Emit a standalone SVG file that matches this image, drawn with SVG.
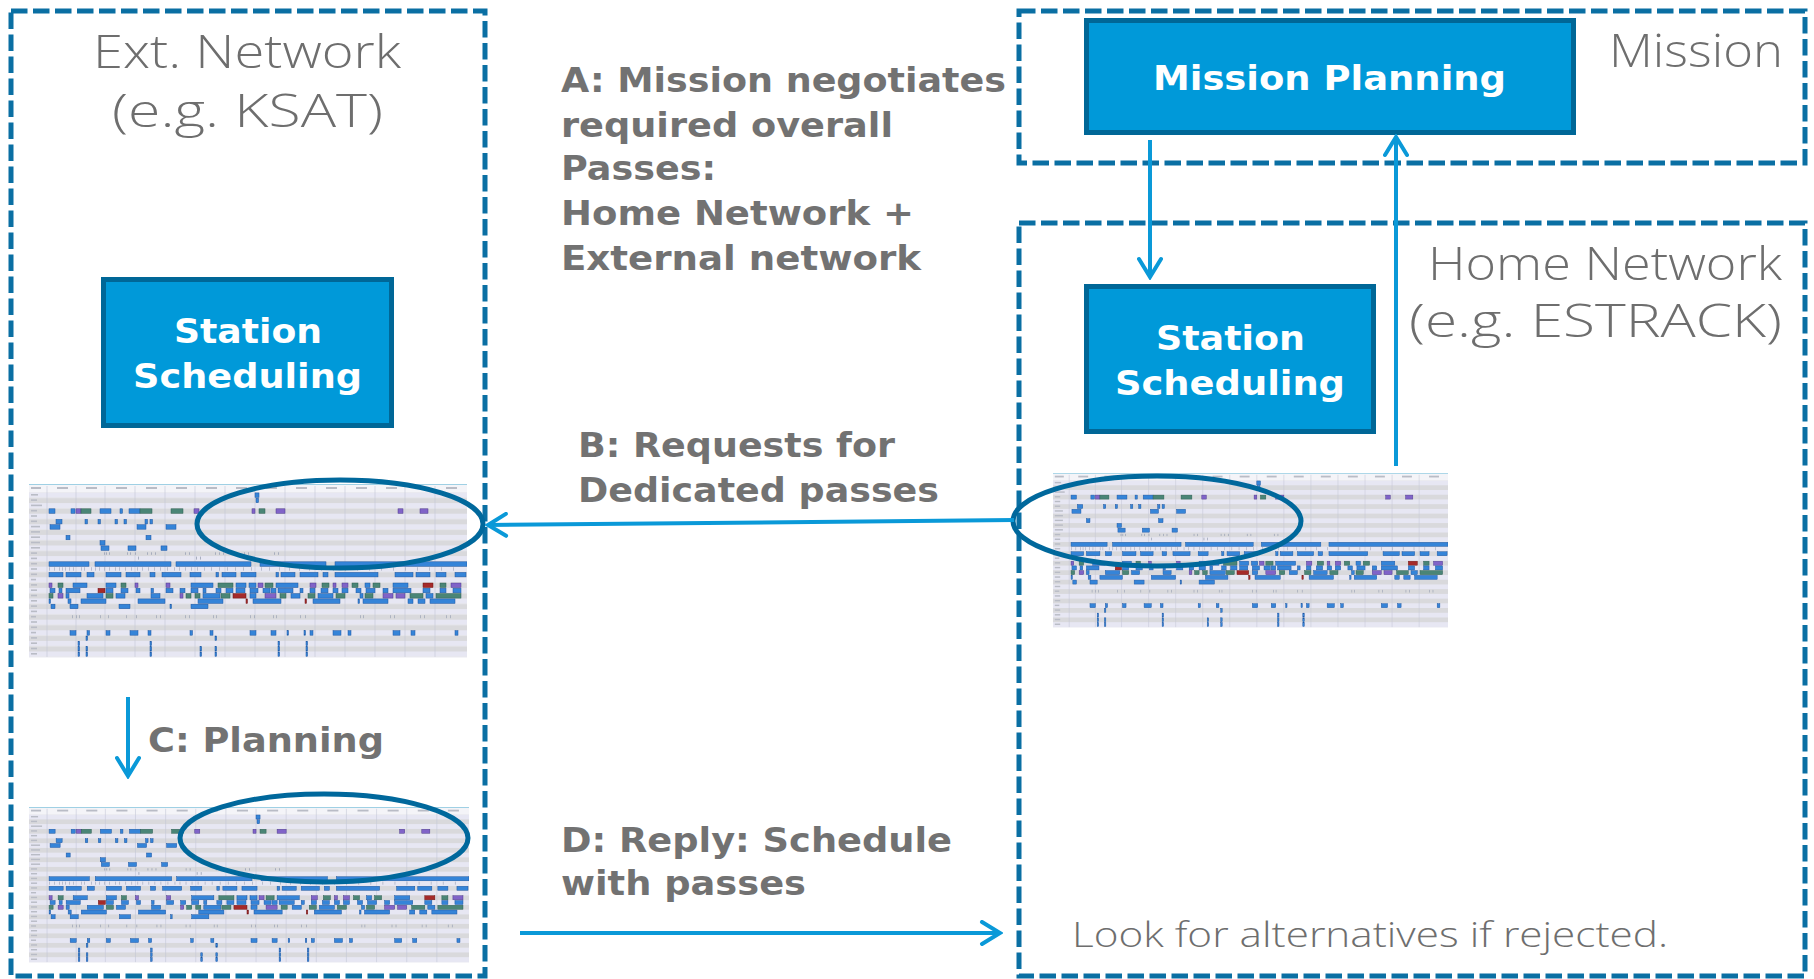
<svg xmlns="http://www.w3.org/2000/svg" xmlns:xlink="http://www.w3.org/1999/xlink" width="1814" height="979" viewBox="0 0 1814 979">
<style>
  .zone { fill: none; stroke: #0a6fa3; stroke-width: 5; stroke-dasharray: 16.5 5.5; }
  .box { fill: #0099d9; stroke: #006797; stroke-width: 5; }
  .boxt { font-family: "DejaVu Sans", "Liberation Sans", sans-serif; font-weight: bold; font-size: 34px; fill: #ffffff; }
  .lbl { font-family: "DejaVu Sans", "Liberation Sans", sans-serif; font-weight: bold; font-size: 34px; fill: #727272; }
  .title { font-family: "Open Sans", "Liberation Sans", sans-serif; font-weight: 300; font-size: 46px; fill: #6e6e6e; }
  .note { font-family: "Open Sans", "Liberation Sans", sans-serif; font-weight: 300; font-size: 35px; fill: #6e6e6e; }
  .conn { fill: none; stroke: #0a99d8; stroke-width: 4; marker-end: url(#arr); }
  .oval { fill: none; stroke: #00689c; stroke-width: 5; }
  .b { fill: #3584d8; stroke: #1d55a0; stroke-width: 0.5; }
  .g { fill: #4a8576; stroke: #2d5e52; stroke-width: 0.5; }
  .p { fill: #8063c8; stroke: #4d3a8c; stroke-width: 0.5; }
  .r { fill: #a52a2a; stroke: #6e1616; stroke-width: 0.5; }
  .t { fill: #9aa2b4; }
  .lab { fill: #b9bcc6; }
  .grid { stroke: #c4c6d6; stroke-width: 0.6; }
</style>
<defs>
  <marker id="arr" markerUnits="userSpaceOnUse" viewBox="0 0 24 26" markerWidth="24" markerHeight="26" refX="21" refY="13" orient="auto">
    <path d="M3,2 L21,13 L3,24" fill="none" stroke="#0a99d8" stroke-width="4" stroke-linecap="round" stroke-linejoin="miter"/>
  </marker>
  <pattern id="stripes" patternUnits="userSpaceOnUse" x="0" y="8.5" width="438" height="10.6">
    <rect x="0" y="0" width="438" height="5.3" fill="#e7e7f3"/>
    <rect x="0" y="5.3" width="438" height="5.3" fill="#d9d9dc"/>
  </pattern>
  <symbol id="gantt" viewBox="0 0 438 174" preserveAspectRatio="none">
    <rect x="0" y="0" width="438" height="174" fill="#f4f4f8"/>
    <rect x="0" y="8.5" width="438" height="164.3" fill="url(#stripes)"/>
    <line x1="0" y1="0.5" x2="438" y2="0.5" stroke="#9fd0e4" stroke-width="1"/>
    <g class="grid">
      <line x1="18" y1="2" x2="18" y2="173"/><line x1="47" y1="2" x2="47" y2="173"/><line x1="76" y1="2" x2="76" y2="173"/>
      <line x1="106" y1="2" x2="106" y2="173"/><line x1="136" y1="2" x2="136" y2="173"/><line x1="166" y1="2" x2="166" y2="173"/>
      <line x1="196" y1="2" x2="196" y2="173"/><line x1="226" y1="2" x2="226" y2="173"/><line x1="256" y1="2" x2="256" y2="173"/>
      <line x1="286" y1="2" x2="286" y2="173"/><line x1="316" y1="2" x2="316" y2="173"/><line x1="346" y1="2" x2="346" y2="173"/>
      <line x1="376" y1="2" x2="376" y2="173"/><line x1="406" y1="2" x2="406" y2="173"/>
    </g>
    <g class="lab">
      <rect x="2" y="3" width="10" height="2"/><rect x="28" y="3" width="11" height="2"/><rect x="57" y="3" width="11" height="2"/>
      <rect x="87" y="3" width="11" height="2"/><rect x="117" y="3" width="11" height="2"/><rect x="147" y="3" width="11" height="2"/>
      <rect x="177" y="3" width="11" height="2"/><rect x="207" y="3" width="11" height="2"/><rect x="237" y="3" width="11" height="2"/>
      <rect x="267" y="3" width="11" height="2"/><rect x="297" y="3" width="11" height="2"/><rect x="327" y="3" width="11" height="2"/>
      <rect x="357" y="3" width="11" height="2"/><rect x="387" y="3" width="11" height="2"/><rect x="417" y="3" width="11" height="2"/>
      <rect x="2" y="10" width="7" height="1.6"/><rect x="2" y="15.3" width="6" height="1.6"/><rect x="2" y="20.6" width="11" height="1.6"/>
      <rect x="2" y="25.9" width="6" height="1.6"/><rect x="2" y="31.2" width="6" height="1.6"/><rect x="2" y="36.5" width="6" height="1.6"/>
      <rect x="2" y="41.8" width="9" height="1.6"/><rect x="2" y="47.1" width="9" height="1.6"/><rect x="2" y="52.4" width="9" height="1.6"/>
      <rect x="2" y="57.7" width="9" height="1.6"/><rect x="2" y="63" width="9" height="1.6"/><rect x="2" y="68.3" width="6" height="1.6"/>
      <rect x="2" y="73.6" width="6" height="1.6"/><rect x="2" y="78.9" width="6" height="1.6"/><rect x="2" y="84.2" width="6" height="1.6"/>
      <rect x="2" y="89.5" width="6" height="1.6"/><rect x="2" y="94.8" width="5" height="1.6"/><rect x="2" y="100.1" width="6" height="1.6"/>
      <rect x="2" y="105.4" width="6" height="1.6"/><rect x="2" y="110.7" width="6" height="1.6"/><rect x="2" y="116" width="6" height="1.6"/>
      <rect x="2" y="121.3" width="6" height="1.6"/><rect x="2" y="126.6" width="6" height="1.6"/><rect x="2" y="131.9" width="5" height="1.6"/>
      <rect x="2" y="137.2" width="6" height="1.6"/><rect x="2" y="142.5" width="6" height="1.6"/><rect x="2" y="147.8" width="5" height="1.6"/>
      <rect x="2" y="153.1" width="6" height="1.6"/><rect x="2" y="158.4" width="6" height="1.6"/><rect x="2" y="163.7" width="6" height="1.6"/>
      <rect x="2" y="169" width="6" height="1.6"/>
    </g>
    <g transform="translate(0,8.5)"><rect class="b" x="226" y="0.4" width="4" height="4.5"/></g>
    <g transform="translate(0,13.8)"><rect class="b" x="227" y="0.4" width="2.5" height="4.5"/></g>
    <g transform="translate(0,24.4)">
      <rect class="b" x="20" y="0.4" width="6" height="4.5"/><rect class="b" x="42" y="0.4" width="4" height="4.5"/>
      <rect class="p" x="47" y="0.4" width="5" height="4.5"/><rect class="g" x="52" y="0.4" width="10" height="4.5"/>
      <rect class="b" x="71" y="0.4" width="11" height="4.5"/><rect class="b" x="91" y="0.4" width="2.5" height="4.5"/>
      <rect class="b" x="100" y="0.4" width="11" height="4.5"/><rect class="g" x="111" y="0.4" width="12" height="4.5"/>
      <rect class="g" x="142" y="0.4" width="12" height="4.5"/><rect class="p" x="165" y="0.4" width="5" height="4.5"/>
      <rect class="p" x="223" y="0.4" width="3" height="4.5"/><rect class="g" x="230" y="0.4" width="6" height="4.5"/>
      <rect class="p" x="247" y="0.4" width="9" height="4.5"/><rect class="p" x="369" y="0.4" width="5" height="4.5"/>
      <rect class="p" x="391" y="0.4" width="8" height="4.5"/>
    </g>
    <g transform="translate(0,35)">
      <rect class="b" x="27" y="0.4" width="6" height="4.5"/><rect class="b" x="56" y="0.4" width="2.5" height="4.5"/>
      <rect class="b" x="69" y="0.4" width="2.5" height="4.5"/><rect class="b" x="86" y="0.4" width="2.5" height="4.5"/>
      <rect class="b" x="95" y="0.4" width="2.5" height="4.5"/><rect class="b" x="116" y="0.4" width="2.5" height="4.5"/>
      <rect class="b" x="121" y="0.4" width="2.5" height="4.5"/>
    </g>
    <g transform="translate(0,40.3)">
      <rect class="b" x="21" y="0.4" width="10" height="4.5"/><rect class="b" x="108" y="0.4" width="9" height="4.5"/>
      <rect class="b" x="137" y="0.4" width="10" height="4.5"/>
    </g>
    <g transform="translate(0,50.9)">
      <rect class="b" x="37" y="0.4" width="4" height="4.5"/><rect class="b" x="117" y="0.4" width="5" height="4.5"/>
    </g>
    <g transform="translate(0,56.2)"><rect class="b" x="71" y="0.4" width="5" height="4.5"/></g>
    <g transform="translate(0,61.5)">
      <rect class="b" x="72" y="0.4" width="8" height="4.5"/><rect class="b" x="99" y="0.4" width="8" height="4.5"/>
      <rect class="b" x="132" y="0.4" width="6" height="4.5"/>
    </g>
    <g transform="translate(0,66.8)" class="t">
      <rect x="75" y="1.5" width="0.8" height="2.5"/><rect x="77" y="1.5" width="0.8" height="2.5"/><rect x="80" y="1.5" width="0.8" height="2.5"/>
      <rect x="98" y="1.5" width="0.8" height="2.5"/><rect x="101" y="1.5" width="0.8" height="2.5"/><rect x="106" y="1.5" width="0.8" height="2.5"/>
      <rect x="118" y="1.5" width="0.8" height="2.5"/><rect x="122" y="1.5" width="0.8" height="2.5"/><rect x="126" y="1.5" width="0.8" height="2.5"/>
      <rect x="156" y="1.5" width="0.8" height="2.5"/><rect x="160" y="1.5" width="0.8" height="2.5"/><rect x="186" y="1.5" width="0.8" height="2.5"/>
      <rect x="190" y="1.5" width="0.8" height="2.5"/><rect x="194" y="1.5" width="0.8" height="2.5"/><rect x="215" y="1.5" width="0.8" height="2.5"/>
      <rect x="219" y="1.5" width="0.8" height="2.5"/><rect x="245" y="1.5" width="0.8" height="2.5"/><rect x="249" y="1.5" width="0.8" height="2.5"/>
    </g>
    <g transform="translate(0,72.1)" class="t">
      <rect x="109" y="0.5" width="0.8" height="3"/><rect x="167" y="0.5" width="0.8" height="3"/><rect x="171" y="0.5" width="0.8" height="3"/>
    </g>
    <g transform="translate(0,77.4)">
      <rect class="b" x="20" y="0.4" width="40" height="4.5"/><rect class="b" x="66" y="0.4" width="76" height="4.5"/>
      <rect class="b" x="147" y="0.4" width="75" height="4.5"/><rect class="b" x="231" y="0.4" width="66" height="4.5"/>
      <rect class="b" x="306" y="0.4" width="132" height="4.5"/>
    </g>
    <g transform="translate(0,82.7)" class="t">
      <rect x="20" y="0.5" width="0.6" height="3.5"/><rect x="25" y="0.5" width="0.6" height="3.5"/><rect x="30" y="0.5" width="0.6" height="3.5"/>
      <rect x="33" y="0.5" width="0.6" height="3.5"/><rect x="36" y="0.5" width="0.6" height="3.5"/><rect x="40" y="0.5" width="0.6" height="3.5"/>
      <rect x="44" y="0.5" width="0.6" height="3.5"/><rect x="52" y="0.5" width="0.6" height="3.5"/><rect x="55" y="0.5" width="0.6" height="3.5"/>
      <rect x="62" y="0.5" width="0.6" height="3.5"/><rect x="66" y="0.5" width="0.6" height="3.5"/><rect x="70" y="0.5" width="0.6" height="3.5"/>
      <rect x="75" y="0.5" width="0.6" height="3.5"/><rect x="80" y="0.5" width="0.6" height="3.5"/><rect x="86" y="0.5" width="0.6" height="3.5"/>
      <rect x="90" y="0.5" width="0.6" height="3.5"/><rect x="96" y="0.5" width="0.6" height="3.5"/><rect x="102" y="0.5" width="0.6" height="3.5"/>
      <rect x="108" y="0.5" width="0.6" height="3.5"/><rect x="113" y="0.5" width="0.6" height="3.5"/><rect x="119" y="0.5" width="0.6" height="3.5"/>
      <rect x="125" y="0.5" width="0.6" height="3.5"/><rect x="131" y="0.5" width="0.6" height="3.5"/><rect x="138" y="0.5" width="0.6" height="3.5"/>
      <rect x="145" y="0.5" width="0.6" height="3.5"/><rect x="150" y="0.5" width="0.6" height="3.5"/><rect x="156" y="0.5" width="0.6" height="3.5"/>
      <rect x="162" y="0.5" width="0.6" height="3.5"/><rect x="168" y="0.5" width="0.6" height="3.5"/><rect x="175" y="0.5" width="0.6" height="3.5"/>
      <rect x="182" y="0.5" width="0.6" height="3.5"/><rect x="190" y="0.5" width="0.6" height="3.5"/><rect x="198" y="0.5" width="0.6" height="3.5"/>
      <rect x="206" y="0.5" width="0.6" height="3.5"/><rect x="214" y="0.5" width="0.6" height="3.5"/><rect x="222" y="0.5" width="0.6" height="3.5"/>
      <rect x="232" y="0.5" width="0.6" height="3.5"/><rect x="240" y="0.5" width="0.6" height="3.5"/><rect x="250" y="0.5" width="0.6" height="3.5"/>
      <rect x="260" y="0.5" width="0.6" height="3.5"/><rect x="270" y="0.5" width="0.6" height="3.5"/><rect x="280" y="0.5" width="0.6" height="3.5"/>
      <rect x="292" y="0.5" width="0.6" height="3.5"/><rect x="304" y="0.5" width="0.6" height="3.5"/><rect x="316" y="0.5" width="0.6" height="3.5"/>
      <rect x="328" y="0.5" width="0.6" height="3.5"/><rect x="340" y="0.5" width="0.6" height="3.5"/><rect x="352" y="0.5" width="0.6" height="3.5"/>
      <rect x="364" y="0.5" width="0.6" height="3.5"/><rect x="376" y="0.5" width="0.6" height="3.5"/><rect x="388" y="0.5" width="0.6" height="3.5"/>
      <rect x="400" y="0.5" width="0.6" height="3.5"/><rect x="412" y="0.5" width="0.6" height="3.5"/><rect x="424" y="0.5" width="0.6" height="3.5"/>
    </g>
    <g transform="translate(0,88)">
      <rect class="b" x="20" y="0.4" width="14" height="4.5"/><rect class="b" x="37" y="0.4" width="15" height="4.5"/>
      <rect class="b" x="58" y="0.4" width="7" height="4.5"/><rect class="b" x="77" y="0.4" width="15" height="4.5"/>
      <rect class="b" x="97" y="0.4" width="14" height="4.5"/><rect class="b" x="121" y="0.4" width="5" height="4.5"/>
      <rect class="b" x="133" y="0.4" width="19" height="4.5"/><rect class="b" x="161" y="0.4" width="11" height="4.5"/>
      <rect class="b" x="187" y="0.4" width="2.5" height="4.5"/><rect class="b" x="193" y="0.4" width="14" height="4.5"/>
      <rect class="b" x="212" y="0.4" width="15" height="4.5"/><rect class="b" x="247" y="0.4" width="2.5" height="4.5"/>
      <rect class="b" x="252" y="0.4" width="14" height="4.5"/><rect class="b" x="271" y="0.4" width="18" height="4.5"/>
      <rect class="b" x="294" y="0.4" width="5" height="4.5"/><rect class="b" x="306" y="0.4" width="43" height="4.5"/>
      <rect class="b" x="366" y="0.4" width="18" height="4.5"/><rect class="b" x="387" y="0.4" width="14" height="4.5"/>
      <rect class="b" x="407" y="0.4" width="10" height="4.5"/><rect class="b" x="426" y="0.4" width="11" height="4.5"/>
    </g>
    <g transform="translate(0,98.6)">
      <rect class="p" x="20" y="0.4" width="3" height="4.5"/><rect class="g" x="29" y="0.4" width="5" height="4.5"/>
      <rect class="b" x="44" y="0.4" width="14" height="4.5"/><rect class="b" x="77" y="0.4" width="10" height="4.5"/>
      <rect class="g" x="92" y="0.4" width="5" height="4.5"/><rect class="p" x="106" y="0.4" width="3" height="4.5"/>
      <rect class="p" x="137" y="0.4" width="4" height="4.5"/><rect class="b" x="162" y="0.4" width="22" height="4.5"/>
      <rect class="g" x="189" y="0.4" width="15" height="4.5"/><rect class="b" x="207" y="0.4" width="10" height="4.5"/>
      <rect class="b" x="220" y="0.4" width="7" height="4.5"/><rect class="p" x="229" y="0.4" width="5" height="4.5"/>
      <rect class="g" x="236" y="0.4" width="8" height="4.5"/><rect class="b" x="247" y="0.4" width="22" height="4.5"/>
      <rect class="p" x="281" y="0.4" width="6" height="4.5"/><rect class="g" x="293" y="0.4" width="7" height="4.5"/>
      <rect class="p" x="304" y="0.4" width="3" height="4.5"/><rect class="p" x="313" y="0.4" width="6" height="4.5"/>
      <rect class="g" x="323" y="0.4" width="6" height="4.5"/><rect class="b" x="336" y="0.4" width="5" height="4.5"/>
      <rect class="g" x="344" y="0.4" width="7" height="4.5"/><rect class="b" x="364" y="0.4" width="15" height="4.5"/>
      <rect class="r" x="394" y="0.4" width="10" height="4.5"/><rect class="g" x="411" y="0.4" width="6" height="4.5"/>
      <rect class="p" x="422" y="0.4" width="10" height="4.5"/>
    </g>
    <g transform="translate(0,103.9)">
      <rect class="b" x="21" y="0.4" width="5" height="4.5"/><rect class="b" x="30" y="0.4" width="3" height="4.5"/>
      <rect class="b" x="37" y="0.4" width="14" height="4.5"/><rect class="r" x="69" y="0.4" width="7" height="4.5"/>
      <rect class="b" x="77" y="0.4" width="7" height="4.5"/><rect class="b" x="92" y="0.4" width="7" height="4.5"/>
      <rect class="b" x="107" y="0.4" width="4" height="4.5"/><rect class="b" x="122" y="0.4" width="2.5" height="4.5"/>
      <rect class="b" x="137" y="0.4" width="7" height="4.5"/><rect class="b" x="151" y="0.4" width="5" height="4.5"/>
      <rect class="b" x="162" y="0.4" width="7" height="4.5"/><rect class="b" x="174" y="0.4" width="3" height="4.5"/>
      <rect class="b" x="187" y="0.4" width="5" height="4.5"/><rect class="b" x="197" y="0.4" width="7" height="4.5"/>
      <rect class="b" x="207" y="0.4" width="9" height="4.5"/><rect class="b" x="221" y="0.4" width="8" height="4.5"/>
      <rect class="b" x="234" y="0.4" width="7" height="4.5"/><rect class="b" x="242" y="0.4" width="5" height="4.5"/>
      <rect class="b" x="249" y="0.4" width="15" height="4.5"/><rect class="b" x="271" y="0.4" width="3" height="4.5"/>
      <rect class="b" x="281" y="0.4" width="5" height="4.5"/><rect class="b" x="292" y="0.4" width="7" height="4.5"/>
      <rect class="b" x="304" y="0.4" width="5" height="4.5"/><rect class="b" x="313" y="0.4" width="6" height="4.5"/>
      <rect class="b" x="327" y="0.4" width="5" height="4.5"/><rect class="b" x="337" y="0.4" width="9" height="4.5"/>
      <rect class="b" x="354" y="0.4" width="5" height="4.5"/><rect class="b" x="364" y="0.4" width="18" height="4.5"/>
      <rect class="b" x="394" y="0.4" width="7" height="4.5"/><rect class="b" x="411" y="0.4" width="6" height="4.5"/>
      <rect class="b" x="424" y="0.4" width="8" height="4.5"/>
    </g>
    <g transform="translate(0,109.2)">
      <rect class="g" x="20" y="0.4" width="4" height="4.5"/><rect class="p" x="29" y="0.4" width="5" height="4.5"/>
      <rect class="b" x="37" y="0.4" width="3" height="4.5"/><rect class="b" x="58" y="0.4" width="16" height="4.5"/>
      <rect class="g" x="77" y="0.4" width="7" height="4.5"/><rect class="b" x="87" y="0.4" width="9" height="4.5"/>
      <rect class="b" x="122" y="0.4" width="9" height="4.5"/><rect class="p" x="151" y="0.4" width="3" height="4.5"/>
      <rect class="g" x="157" y="0.4" width="5" height="4.5"/><rect class="g" x="166" y="0.4" width="5" height="4.5"/>
      <rect class="b" x="174" y="0.4" width="17" height="4.5"/><rect class="g" x="192" y="0.4" width="9" height="4.5"/>
      <rect class="r" x="204" y="0.4" width="13" height="4.5"/><rect class="b" x="221" y="0.4" width="6" height="4.5"/>
      <rect class="p" x="236" y="0.4" width="11" height="4.5"/><rect class="g" x="251" y="0.4" width="6" height="4.5"/>
      <rect class="b" x="262" y="0.4" width="9" height="4.5"/><rect class="g" x="279" y="0.4" width="7" height="4.5"/>
      <rect class="b" x="289" y="0.4" width="15" height="4.5"/><rect class="g" x="307" y="0.4" width="9" height="4.5"/>
      <rect class="b" x="331" y="0.4" width="3" height="4.5"/><rect class="g" x="336" y="0.4" width="8" height="4.5"/>
      <rect class="p" x="354" y="0.4" width="10" height="4.5"/><rect class="p" x="367" y="0.4" width="9" height="4.5"/>
      <rect class="g" x="381" y="0.4" width="13" height="4.5"/><rect class="b" x="397" y="0.4" width="7" height="4.5"/>
      <rect class="g" x="407" y="0.4" width="25" height="4.5"/>
    </g>
    <g transform="translate(0,114.5)">
      <rect class="b" x="20" y="0.4" width="1.5" height="4.5"/><rect class="b" x="39" y="0.4" width="3" height="4.5"/>
      <rect class="b" x="52" y="0.4" width="25" height="4.5"/><rect class="b" x="109" y="0.4" width="27" height="4.5"/>
      <rect class="b" x="169" y="0.4" width="25" height="4.5"/><rect class="r" x="217" y="0.4" width="1.5" height="4.5"/>
      <rect class="b" x="224" y="0.4" width="28" height="4.5"/><rect class="r" x="276" y="0.4" width="1.5" height="4.5"/>
      <rect class="b" x="284" y="0.4" width="27" height="4.5"/><rect class="b" x="329" y="0.4" width="1.5" height="4.5"/>
      <rect class="b" x="334" y="0.4" width="25" height="4.5"/><rect class="b" x="379" y="0.4" width="5" height="4.5"/>
      <rect class="b" x="389" y="0.4" width="7" height="4.5"/><rect class="b" x="401" y="0.4" width="25" height="4.5"/>
    </g>
    <g transform="translate(0,119.8)">
      <rect class="b" x="22" y="0.4" width="4" height="4.5"/><rect class="b" x="41" y="0.4" width="8" height="4.5"/>
      <rect class="b" x="90" y="0.4" width="11" height="4.5"/><rect class="b" x="141" y="0.4" width="1.5" height="4.5"/>
      <rect class="b" x="162" y="0.4" width="17" height="4.5"/>
    </g>
    <g transform="translate(0,130.4)" class="t">
      <rect x="43" y="0.8" width="0.7" height="3"/><rect x="47" y="0.8" width="0.7" height="3"/><rect x="50" y="0.8" width="0.7" height="3"/>
      <rect x="71" y="0.8" width="0.7" height="3"/><rect x="79" y="0.8" width="0.7" height="3"/><rect x="97" y="0.8" width="0.7" height="3"/>
      <rect x="107" y="0.8" width="0.7" height="3"/><rect x="127" y="0.8" width="0.7" height="3"/><rect x="131" y="0.8" width="0.7" height="3"/>
      <rect x="156" y="0.8" width="0.7" height="3"/><rect x="160" y="0.8" width="0.7" height="3"/><rect x="184" y="0.8" width="0.7" height="3"/>
      <rect x="187" y="0.8" width="0.7" height="3"/><rect x="221" y="0.8" width="0.7" height="3"/><rect x="225" y="0.8" width="0.7" height="3"/>
      <rect x="244" y="0.8" width="0.7" height="3"/><rect x="247" y="0.8" width="0.7" height="3"/><rect x="271" y="0.8" width="0.7" height="3"/>
      <rect x="276" y="0.8" width="0.7" height="3"/><rect x="331" y="0.8" width="0.7" height="3"/><rect x="334" y="0.8" width="0.7" height="3"/>
      <rect x="361" y="0.8" width="0.7" height="3"/><rect x="365" y="0.8" width="0.7" height="3"/><rect x="391" y="0.8" width="0.7" height="3"/>
      <rect x="395" y="0.8" width="0.7" height="3"/><rect x="417" y="0.8" width="0.7" height="3"/><rect x="421" y="0.8" width="0.7" height="3"/>
    </g>
    <g transform="translate(0,146.3)">
      <rect class="b" x="41" y="0.4" width="6" height="4.5"/><rect class="b" x="58" y="0.4" width="2.5" height="4.5"/>
      <rect class="b" x="77" y="0.4" width="4" height="4.5"/><rect class="b" x="101" y="0.4" width="8" height="4.5"/>
      <rect class="b" x="119" y="0.4" width="3" height="4.5"/><rect class="b" x="161" y="0.4" width="2.5" height="4.5"/>
      <rect class="b" x="181" y="0.4" width="3" height="4.5"/><rect class="b" x="221" y="0.4" width="6" height="4.5"/>
      <rect class="b" x="242" y="0.4" width="5" height="4.5"/><rect class="b" x="258" y="0.4" width="1.5" height="4.5"/>
      <rect class="b" x="275" y="0.4" width="1.5" height="4.5"/><rect class="b" x="281" y="0.4" width="3" height="4.5"/>
      <rect class="b" x="304" y="0.4" width="8" height="4.5"/><rect class="b" x="319" y="0.4" width="3" height="4.5"/>
      <rect class="b" x="364" y="0.4" width="7" height="4.5"/><rect class="b" x="382" y="0.4" width="4" height="4.5"/>
      <rect class="b" x="426" y="0.4" width="3" height="4.5"/>
    </g>
    <g class="b">
      <rect x="57" y="152" width="1.6" height="4.4"/><rect x="186" y="152" width="1.6" height="4.4"/>
      <rect x="49" y="157.3" width="1.6" height="4.4"/><rect x="121" y="157.3" width="1.6" height="4.4"/><rect x="249" y="157.3" width="1.6" height="4.4"/><rect x="277" y="157.3" width="1.6" height="4.4"/>
      <rect x="49" y="162.6" width="1.6" height="4.4"/><rect x="57" y="162.6" width="1.6" height="4.4"/><rect x="121" y="162.6" width="1.6" height="4.4"/><rect x="171" y="162.6" width="1.6" height="4.4"/><rect x="186" y="162.6" width="1.6" height="4.4"/><rect x="249" y="162.6" width="1.6" height="4.4"/><rect x="277" y="162.6" width="1.6" height="4.4"/>
      <rect x="49" y="167.9" width="1.6" height="4.4"/><rect x="57" y="167.9" width="1.6" height="4.4"/><rect x="121" y="167.9" width="1.6" height="4.4"/><rect x="171" y="167.9" width="1.6" height="4.4"/><rect x="186" y="167.9" width="1.6" height="4.4"/><rect x="249" y="167.9" width="1.6" height="4.4"/><rect x="277" y="167.9" width="1.6" height="4.4"/>
    </g>
  </symbol>
</defs>

<rect x="0" y="0" width="1814" height="979" fill="#ffffff"/>

<g id="ext-network">
  <rect class="zone" x="11" y="11" width="474" height="965"/>
  <text class="title" x="93" y="68" textLength="308" lengthAdjust="spacingAndGlyphs">Ext. Network</text>
  <text class="title" x="112" y="127" textLength="271" lengthAdjust="spacingAndGlyphs">(e.g. KSAT)</text>
</g>

<g id="mission">
  <rect class="zone" x="1019" y="11" width="786" height="152"/>
  <text class="title" x="1609" y="67" textLength="174" lengthAdjust="spacingAndGlyphs">Mission</text>
</g>

<g id="home-network">
  <rect class="zone" x="1019" y="223" width="786" height="753"/>
  <text class="title" x="1428" y="280" textLength="354" lengthAdjust="spacingAndGlyphs">Home Network</text>
  <text class="title" x="1409" y="337" textLength="373" lengthAdjust="spacingAndGlyphs">(e.g. ESTRACK)</text>
  <text class="note" x="1072" y="947" textLength="596" lengthAdjust="spacingAndGlyphs">Look for alternatives if rejected.</text>
</g>

<g id="mission-planning">
  <rect class="box" x="1086.5" y="20.5" width="487" height="112"/>
  <text class="boxt" x="1153" y="90" textLength="353" lengthAdjust="spacingAndGlyphs">Mission Planning</text>
</g>

<g id="station-scheduling-ext">
  <rect class="box" x="103.5" y="279.5" width="288" height="146"/>
  <text class="boxt" x="174" y="343" textLength="148" lengthAdjust="spacingAndGlyphs">Station</text>
  <text class="boxt" x="133" y="388" textLength="229" lengthAdjust="spacingAndGlyphs">Scheduling</text>
</g>

<g id="station-scheduling-home">
  <rect class="box" x="1086.5" y="286.5" width="287" height="145"/>
  <text class="boxt" x="1156" y="350" textLength="149" lengthAdjust="spacingAndGlyphs">Station</text>
  <text class="boxt" x="1115" y="395" textLength="230" lengthAdjust="spacingAndGlyphs">Scheduling</text>
</g>

<g id="schedule-ext-request">
  <use xlink:href="#gantt" href="#gantt" x="29" y="484" width="438" height="174"/>
  <ellipse class="oval" cx="340" cy="524" rx="143" ry="44"/>
</g>

<g id="schedule-home">
  <use xlink:href="#gantt" href="#gantt" x="1053" y="473" width="395" height="155"/>
  <ellipse class="oval" cx="1157" cy="521" rx="144" ry="45"/>
</g>

<g id="schedule-ext-planned">
  <use xlink:href="#gantt" href="#gantt" x="29" y="807" width="440" height="156"/>
  <ellipse class="oval" cx="324" cy="838" rx="144" ry="44"/>
</g>

<g id="connectors">
  <path class="conn" d="M1150,140 L1150,277"/>
  <path class="conn" d="M1396,466 L1396,137"/>
  <path class="conn" d="M1014,520 L488,525"/>
  <path class="conn" d="M128,697 L128,776"/>
  <path class="conn" d="M520,933 L1000,933"/>
</g>

<g id="labels">
  <text class="lbl" x="561" y="92" textLength="445" lengthAdjust="spacingAndGlyphs">A: Mission negotiates</text>
  <text class="lbl" x="561" y="137" textLength="332" lengthAdjust="spacingAndGlyphs">required overall</text>
  <text class="lbl" x="561" y="180" textLength="155" lengthAdjust="spacingAndGlyphs">Passes:</text>
  <text class="lbl" x="561" y="225" textLength="353" lengthAdjust="spacingAndGlyphs">Home Network +</text>
  <text class="lbl" x="561" y="270" textLength="360" lengthAdjust="spacingAndGlyphs">External network</text>
  <text class="lbl" x="578" y="457" textLength="317" lengthAdjust="spacingAndGlyphs">B: Requests for</text>
  <text class="lbl" x="578" y="502" textLength="361" lengthAdjust="spacingAndGlyphs">Dedicated passes</text>
  <text class="lbl" x="148" y="752" textLength="236" lengthAdjust="spacingAndGlyphs">C: Planning</text>
  <text class="lbl" x="561" y="852" textLength="391" lengthAdjust="spacingAndGlyphs">D: Reply: Schedule</text>
  <text class="lbl" x="561" y="895" textLength="245" lengthAdjust="spacingAndGlyphs">with passes</text>
</g>
</svg>
